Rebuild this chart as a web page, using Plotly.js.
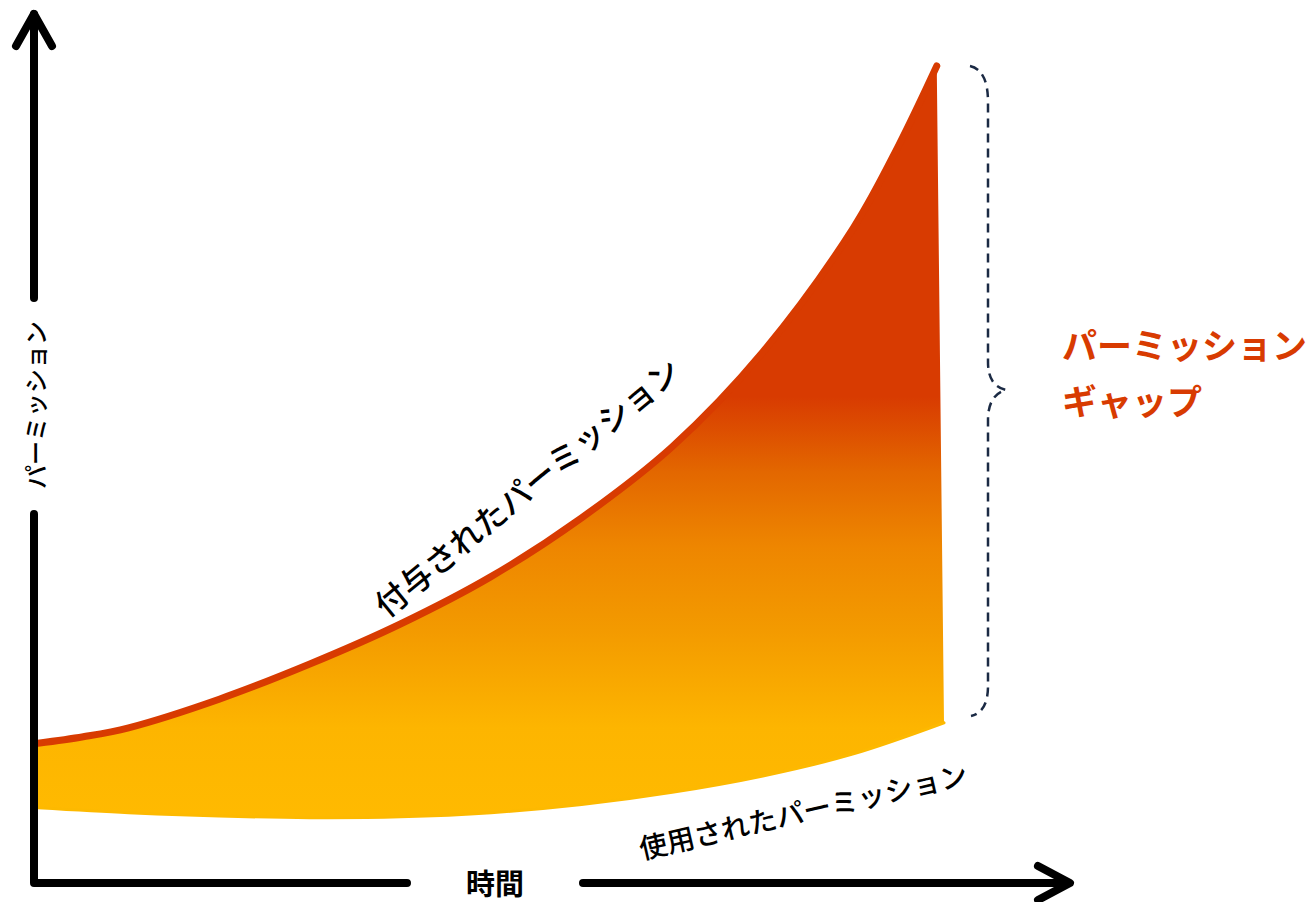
<!DOCTYPE html>
<html>
<head>
<meta charset="utf-8">
<script src="https://cdn.plot.ly/plotly-3.0.1.min.js"></script>
<style>
  html, body { margin: 0; padding: 0; background: #ffffff; }
  #chart { width: 1309px; height: 902px; }
</style>
</head>
<body>
<div id="chart"></div>
<script>
// ---- data (time in arbitrary units, permissions in arbitrary units) ----
const timeGranted = [0, 0.5, 1, 2, 3, 4, 5, 6, 7, 8, 9, 9.5, 9.92];
const granted     = [17.1, 17.9, 19.0, 22.5, 26.8, 31.7, 37.5, 44.7, 53.4, 65.0, 80.2, 90.3, 100];
const timeUsed    = [0, 1, 2, 3, 4, 5, 6, 7, 8, 9, 10];
const used        = [9.2, 8.6, 8.2, 8.0, 8.1, 8.6, 9.6, 11.1, 13.1, 15.8, 19.6];

const labelGranted = '付与されたパーミッション';
const labelUsed    = '使用されたパーミッション';
const labelGap1    = 'パーミッション';
const labelGap2    = 'ギャップ';
const axisX        = '時間';
const axisY        = 'パーミッション';

// ---- pixel <-> axis helpers (layout only) ----
const W = 1309, H = 902;
const X0 = 38, PXX = 90.6;   // pixel of t=0, pixels per time unit
const Y0 = 883, PXY = 8.17;  // pixel of p=0, pixels per permission unit
const X = px => (px - X0) / PXX;
const Y = py => (Y0 - py) / PXY;
const P = (px, py) => X(px) + ',' + Y(py);

const JP = '"Noto Sans CJK JP", "Noto Sans", sans-serif';
const RED = '#D83B01';

// gap area between granted and used permissions
const gapX = timeGranted.concat(timeUsed.slice().reverse());
const gapY = granted.concat(used.slice().reverse());

const traces = [
  {
    x: gapX, y: gapY, type: 'scatter', mode: 'lines',
    line: { width: 0, color: 'rgba(0,0,0,0)' },
    fill: 'toself',
    fillgradient: {
      type: 'vertical',
      start: 8, stop: 100,
      colorscale: [
        [0, '#FFBA00'], [0.12, '#FDB500'], [0.25, '#F39A00'],
        [0.36, '#EE8600'], [0.46, '#E36700'], [0.56, '#D83B01'], [1, '#D83B01']
      ]
    },
    hoverinfo: 'skip', showlegend: false
  },
  {
    x: timeUsed, y: used, type: 'scatter', mode: 'lines',
    line: { color: '#FDB900', width: 3, shape: 'spline', smoothing: 1 },
    hoverinfo: 'skip', showlegend: false
  },
  {
    x: timeGranted, y: granted, type: 'scatter', mode: 'lines',
    line: { color: RED, width: 7, shape: 'spline', smoothing: 1 },
    hoverinfo: 'skip', showlegend: false
  }
];

const axisLine = { color: '#000000', width: 8 };
const shapes = [
  // y axis upper segment + arrow head
  { type: 'path', xref: 'x', yref: 'y', path: 'M' + P(34, 298) + ' L' + P(34, 14), line: axisLine },
  { type: 'path', xref: 'x', yref: 'y', path: 'M' + P(16, 46) + ' L' + P(34, 14) + ' L' + P(52, 46), line: axisLine },
  // y axis lower segment + x axis left segment
  { type: 'path', xref: 'x', yref: 'y', path: 'M' + P(34, 514) + ' L' + P(34, 883) + ' L' + P(407, 883), line: axisLine },
  // x axis right segment + arrow head
  { type: 'path', xref: 'x', yref: 'y', path: 'M' + P(583, 883) + ' L' + P(1068, 883), line: axisLine },
  { type: 'path', xref: 'x', yref: 'y', path: 'M' + P(1038, 866) + ' L' + P(1070, 883) + ' L' + P(1038, 900), line: axisLine },
  // brace (dashed)
  { type: 'path', xref: 'x', yref: 'y',
    path: 'M' + P(970, 66) + ' Q' + P(988, 70) + ' ' + P(988, 102) +
          ' L' + P(988, 362) + ' Q' + P(988, 386) + ' ' + P(1006, 390) +
          ' Q' + P(988, 395) + ' ' + P(988, 420) +
          ' L' + P(988, 686) + ' Q' + P(988, 712) + ' ' + P(971, 716),
    line: { color: '#1B2A44', width: 2.5, dash: '9px,6px' } }
];

const annotations = [
  { x: X(526), y: Y(486), text: labelGranted, showarrow: false, textangle: -39.5,
    xanchor: 'center', yanchor: 'middle', font: { family: JP, size: 32, color: '#000000', weight: 500 } },
  { x: X(803), y: Y(810), text: labelUsed, showarrow: false, textangle: -13,
    xanchor: 'center', yanchor: 'middle', font: { family: JP, size: 28, color: '#000000', weight: 500 } },
  { x: X(1060), y: Y(343), text: labelGap1, showarrow: false, align: 'left',
    xanchor: 'left', yanchor: 'middle', font: { family: JP, size: 35, color: RED, weight: 'bold' } },
  { x: X(1060), y: Y(399), text: labelGap2, showarrow: false, align: 'left',
    xanchor: 'left', yanchor: 'middle', font: { family: JP, size: 35, color: RED, weight: 'bold' } },
  { x: X(495), y: Y(882), text: axisX, showarrow: false,
    xanchor: 'center', yanchor: 'middle', font: { family: JP, size: 29, color: '#000000', weight: 600 } },
  { x: X(34), y: Y(405), text: axisY, showarrow: false, textangle: -90,
    xanchor: 'center', yanchor: 'middle', font: { family: JP, size: 24, color: '#000000', weight: 500 } }
];

const layout = {
  width: W, height: H,
  margin: { l: 0, r: 0, t: 0, b: 0, pad: 0 },
  paper_bgcolor: '#ffffff', plot_bgcolor: '#ffffff',
  xaxis: { range: [X(0), X(W)], visible: false, fixedrange: true },
  yaxis: { range: [Y(H), Y(0)], visible: false, fixedrange: true },
  shapes: shapes,
  annotations: annotations,
  showlegend: false
};

Plotly.newPlot('chart', traces, layout, { staticPlot: true, displayModeBar: false }).then(() => {
  document.querySelectorAll('.shapelayer path, .scatterlayer .js-line').forEach(p => {
    p.style.strokeLinecap = 'round';
    p.style.strokeLinejoin = 'round';
  });
  // keep the dashed brace with butt caps
  const sh = document.querySelectorAll('.shapelayer path');
  if (sh.length) sh[sh.length - 1].style.strokeLinecap = 'butt';
});
</script>
</body>
</html>
